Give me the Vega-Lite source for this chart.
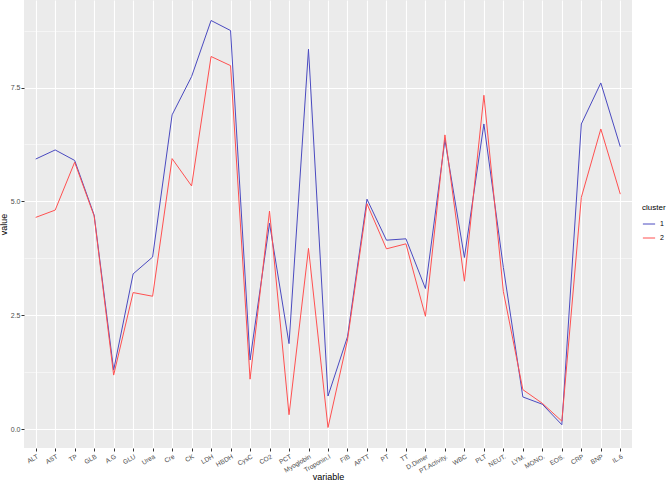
{
  "$schema": "https://vega.github.io/schema/vega-lite/v6.json",
  "width": 608,
  "height": 448,
  "autosize": {"type": "none"},
  "padding": {"left": 24, "top": 0, "right": 36, "bottom": 35},
  "background": "white",
  "config": {
    "view": {"fill": "#EBEBEB", "stroke": null},
    "font": "Liberation Sans"
  },
  "data": {
    "values": [
      {"variable": "ALT", "cluster": "1", "value": 5.93},
      {"variable": "AST", "cluster": "1", "value": 6.13},
      {"variable": "TP", "cluster": "1", "value": 5.90},
      {"variable": "GLB", "cluster": "1", "value": 4.70},
      {"variable": "A.G", "cluster": "1", "value": 1.30},
      {"variable": "GLU", "cluster": "1", "value": 3.41},
      {"variable": "Urea", "cluster": "1", "value": 3.78},
      {"variable": "Cre", "cluster": "1", "value": 6.90},
      {"variable": "CK", "cluster": "1", "value": 7.74},
      {"variable": "LDH", "cluster": "1", "value": 8.97},
      {"variable": "HBDH", "cluster": "1", "value": 8.75},
      {"variable": "CysC", "cluster": "1", "value": 1.52},
      {"variable": "CO2", "cluster": "1", "value": 4.52},
      {"variable": "PCT", "cluster": "1", "value": 1.88},
      {"variable": "Myoglobin", "cluster": "1", "value": 8.34},
      {"variable": "Troponin.I", "cluster": "1", "value": 0.73},
      {"variable": "FIB", "cluster": "1", "value": 2.03},
      {"variable": "APTT", "cluster": "1", "value": 5.05},
      {"variable": "PT", "cluster": "1", "value": 4.15},
      {"variable": "TT", "cluster": "1", "value": 4.18},
      {"variable": "D.Dimer", "cluster": "1", "value": 3.09},
      {"variable": "PT.Activity.", "cluster": "1", "value": 6.35},
      {"variable": "WBC", "cluster": "1", "value": 3.77},
      {"variable": "PLT", "cluster": "1", "value": 6.70},
      {"variable": "NEUT.", "cluster": "1", "value": 3.55},
      {"variable": "LYM.", "cluster": "1", "value": 0.71},
      {"variable": "MONO.", "cluster": "1", "value": 0.55},
      {"variable": "EOS.", "cluster": "1", "value": 0.10},
      {"variable": "CRP", "cluster": "1", "value": 6.70},
      {"variable": "BNP", "cluster": "1", "value": 7.60},
      {"variable": "IL.6", "cluster": "1", "value": 6.20},
      {"variable": "ALT", "cluster": "2", "value": 4.65},
      {"variable": "AST", "cluster": "2", "value": 4.81},
      {"variable": "TP", "cluster": "2", "value": 5.86},
      {"variable": "GLB", "cluster": "2", "value": 4.68},
      {"variable": "A.G", "cluster": "2", "value": 1.19},
      {"variable": "GLU", "cluster": "2", "value": 3.00},
      {"variable": "Urea", "cluster": "2", "value": 2.92},
      {"variable": "Cre", "cluster": "2", "value": 5.94},
      {"variable": "CK", "cluster": "2", "value": 5.34},
      {"variable": "LDH", "cluster": "2", "value": 8.18},
      {"variable": "HBDH", "cluster": "2", "value": 7.98},
      {"variable": "CysC", "cluster": "2", "value": 1.10},
      {"variable": "CO2", "cluster": "2", "value": 4.79},
      {"variable": "PCT", "cluster": "2", "value": 0.32},
      {"variable": "Myoglobin", "cluster": "2", "value": 3.97},
      {"variable": "Troponin.I", "cluster": "2", "value": 0.04},
      {"variable": "FIB", "cluster": "2", "value": 1.96},
      {"variable": "APTT", "cluster": "2", "value": 4.95},
      {"variable": "PT", "cluster": "2", "value": 3.96},
      {"variable": "TT", "cluster": "2", "value": 4.07},
      {"variable": "D.Dimer", "cluster": "2", "value": 2.48},
      {"variable": "PT.Activity.", "cluster": "2", "value": 6.46},
      {"variable": "WBC", "cluster": "2", "value": 3.25},
      {"variable": "PLT", "cluster": "2", "value": 7.33},
      {"variable": "NEUT.", "cluster": "2", "value": 3.02},
      {"variable": "LYM.", "cluster": "2", "value": 0.87},
      {"variable": "MONO.", "cluster": "2", "value": 0.57},
      {"variable": "EOS.", "cluster": "2", "value": 0.18},
      {"variable": "CRP", "cluster": "2", "value": 5.09},
      {"variable": "BNP", "cluster": "2", "value": 6.59},
      {"variable": "IL.6", "cluster": "2", "value": 5.16}
    ]
  },
  "mark": {"type": "line", "strokeWidth": 1},
  "encoding": {
    "x": {
      "field": "variable",
      "type": "nominal",
      "sort": ["ALT","AST","TP","GLB","A.G","GLU","Urea","Cre","CK","LDH","HBDH","CysC","CO2","PCT","Myoglobin","Troponin.I","FIB","APTT","PT","TT","D.Dimer","PT.Activity.","WBC","PLT","NEUT.","LYM.","MONO.","EOS.","CRP","BNP","IL.6"],
      "scale": {"type": "point", "padding": 0.6},
      "axis": {
        "title": "variable",
        "titleFontSize": 9,
        "titleFontWeight": "normal",
        "titleColor": "black",
        "titleBaseline": "top",
        "titleY": 24,
        "labelAngle": -30,
        "labelAlign": "right",
        "labelBaseline": "top",
        "labelFontSize": 6.5,
        "labelColor": "#4D4D4D",
        "labelPadding": 2,
        "tickColor": "#333333",
        "tickSize": 3,
        "domain": false,
        "grid": true,
        "gridColor": "white",
        "gridWidth": 1.1
      }
    },
    "y": {
      "field": "value",
      "type": "quantitative",
      "scale": {"domain": [-0.41, 9.42], "nice": false, "zero": false},
      "axis": {
        "title": "value",
        "titleFontSize": 9,
        "titleFontWeight": "normal",
        "titleColor": "black",
        "titlePadding": 2,
        "values": [0, 1.25, 2.5, 3.75, 5, 6.25, 7.5, 8.75],
        "labelExpr": "datum.value % 2.5 == 0 ? format(datum.value, '.1f') : ''",
        "labelFontSize": 7,
        "labelColor": "#4D4D4D",
        "labelPadding": 1,
        "tickColor": "#333333",
        "tickSize": 3,
        "tickOpacity": {"condition": {"test": "datum.value % 2.5 != 0", "value": 0}, "value": 1},
        "domain": false,
        "grid": true,
        "gridColor": "white",
        "gridWidth": {"condition": {"test": "datum.value % 2.5 != 0", "value": 0.5}, "value": 1.1}
      }
    },
    "color": {
      "field": "cluster",
      "type": "nominal",
      "scale": {"domain": ["1", "2"], "range": ["#4A4AC0", "#FF5050"]},
      "legend": {
        "title": "cluster",
        "orient": "none",
        "legendX": 618,
        "legendY": 204,
        "titleFontSize": 8,
        "titleFontWeight": "normal",
        "titleColor": "black",
        "labelFontSize": 7,
        "labelColor": "black",
        "symbolType": "stroke",
        "symbolSize": 150,
        "symbolStrokeWidth": 1,
        "rowPadding": 4
      }
    }
  }
}
